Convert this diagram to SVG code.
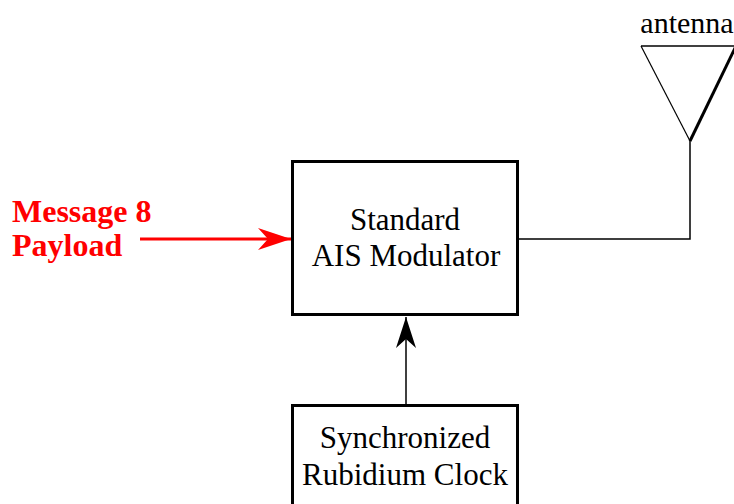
<svg xmlns="http://www.w3.org/2000/svg" width="734" height="504" viewBox="0 0 734 504">
  <defs>
    <style>
      .box { fill: #fff; stroke: #000; stroke-width: 3; }
      .lbl { font-family: "Liberation Serif", "Times New Roman", serif; font-size: 31px; fill: #000; text-anchor: middle; }
      .red { font-family: "Liberation Serif", "Times New Roman", serif; font-size: 32px; font-weight: bold; fill: #f00; }
      .wire { fill: none; stroke: #000; stroke-width: 1.5; }
    </style>
    <marker id="headBlack" markerUnits="userSpaceOnUse" markerWidth="34" markerHeight="24" refX="0" refY="0" viewBox="-32 -12 34 24" orient="auto">
      <path d="M0,0 L-31,-10 L-22,0 L-31,10 Z" fill="#000"/>
    </marker>
    <marker id="headRed" markerUnits="userSpaceOnUse" markerWidth="36" markerHeight="24" refX="0" refY="0" viewBox="-34 -12 36 24" orient="auto">
      <path d="M0,0 L-33,-11 L-23,0 L-33,11 Z" fill="#f00"/>
    </marker>
  </defs>

  <g id="connectors">
    <line x1="140" y1="239" x2="291" y2="239" stroke="#f00" stroke-width="3" marker-end="url(#headRed)"/>
    <line x1="406" y1="404" x2="406" y2="317" stroke="#000" stroke-width="1.5" marker-end="url(#headBlack)"/>
    <polyline class="wire" points="519,239 690,239 690,141"/>
  </g>

  <g id="antenna">
    <path d="M641,46 L734,46" stroke="#000" stroke-width="1.5"/>
    <path d="M641,46 L690,141" stroke="#000" stroke-width="1.2" fill="none"/>
    <path d="M690,141 L736,46" stroke="#000" stroke-width="3" fill="none"/>
    <text x="687" y="33" class="lbl" style="font-size:30px">antenna</text>
  </g>

  <g id="payload">
    <text x="12" y="222" class="red">Message 8</text>
    <text x="12" y="256" class="red">Payload</text>
  </g>

  <g id="modulator">
    <rect x="292.5" y="161.5" width="225" height="153" class="box"/>
    <text x="405" y="230" class="lbl">Standard</text>
    <text x="406" y="266" class="lbl">AIS Modulator</text>
  </g>

  <g id="clock">
    <rect x="292.5" y="405.5" width="225" height="110" class="box"/>
    <text x="405" y="448" class="lbl">Synchronized</text>
    <text x="405" y="485" class="lbl">Rubidium Clock</text>
  </g>
</svg>
